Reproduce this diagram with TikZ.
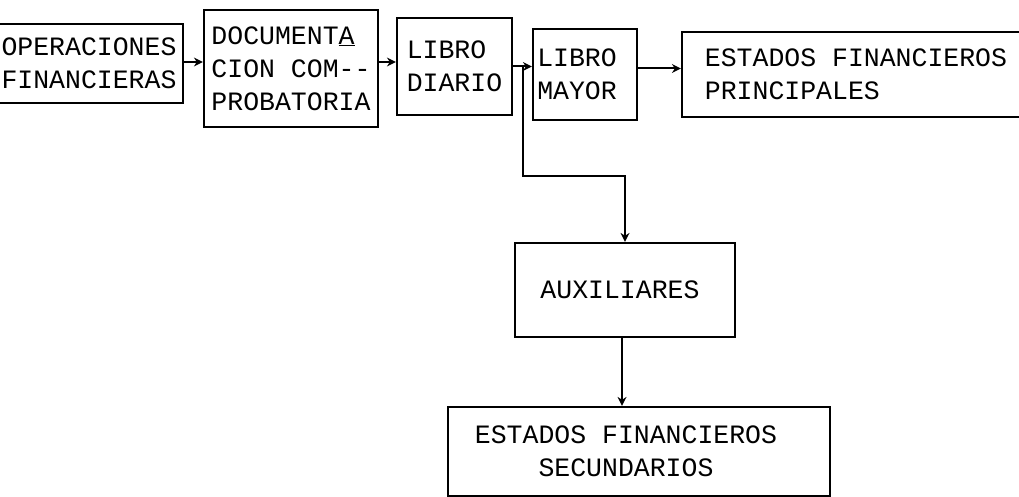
\documentclass[tikz,border=0pt]{standalone}
\usepackage{fontspec}
\newfontfamily\typew{Liberation Mono}
\usetikzlibrary{arrows.meta}
\begin{document}
\begin{tikzpicture}[x=1pt,y=-1pt,
  box/.style={draw, line width=2.2pt, rectangle, inner sep=0pt, align=left,
    font=\typew\fontsize{26.5pt}{33pt}\selectfont},
  arr/.style={line width=2pt, -{Stealth[length=9pt,width=9pt]}}]
\useasboundingbox (0,0) rectangle (1019,497);
\node[box, minimum width=188pt, minimum height=79pt] (b1) at (89,63.5) {OPERACIONES\\FINANCIERAS};
\node[box, minimum width=174pt, minimum height=117pt] (b2) at (291,68.5) {DOCUMENT\underline{A}\\CION COM--\\PROBATORIA};
\node[box, minimum width=115pt, minimum height=97pt] (b3) at (454.5,66.5) {LIBRO\\DIARIO};
\node[box, minimum width=104pt, minimum height=91pt] (b4) at (585,74.5) {LIBRO\hspace*{16pt}\\MAYOR\hspace*{16pt}};
\node[box, minimum width=348pt, minimum height=85pt] (b5) at (856,74.5) {ESTADOS FINANCIEROS\\PRINCIPALES};
\node[box, minimum width=220pt, minimum height=94pt] (b6) at (625,290) {AUXILIARES\hspace*{10pt}};
\node[box, minimum width=382pt, minimum height=89pt, align=center] (b7) at (639,451.5) {ESTADOS FINANCIEROS\hspace*{26pt}\\SECUNDARIOS\hspace*{26pt}};
\coordinate (j) at ([xshift=10pt]b3.east);
\coordinate (k) at ([yshift=-110pt]j);
\draw[arr] ([yshift=1.5pt]b1.east) -- ([yshift=1.5pt]b1.east -| b2.west);
\draw[arr] ([yshift=4.5pt]b3.west -| b2.east) -- ([yshift=4.5pt]b3.west);
\draw[arr] (b3.east) -- (b3.east -| b4.west);
\draw[arr] (j) -- (k) -| (b6.north);
\draw[arr] ([yshift=6pt]b4.east) -- ([yshift=6pt]b4.east -| b5.west);
\draw[arr] ([xshift=-3pt]b6.south) -- ([xshift=-3pt]b6.south |- b7.north);
\end{tikzpicture}
\end{document}
